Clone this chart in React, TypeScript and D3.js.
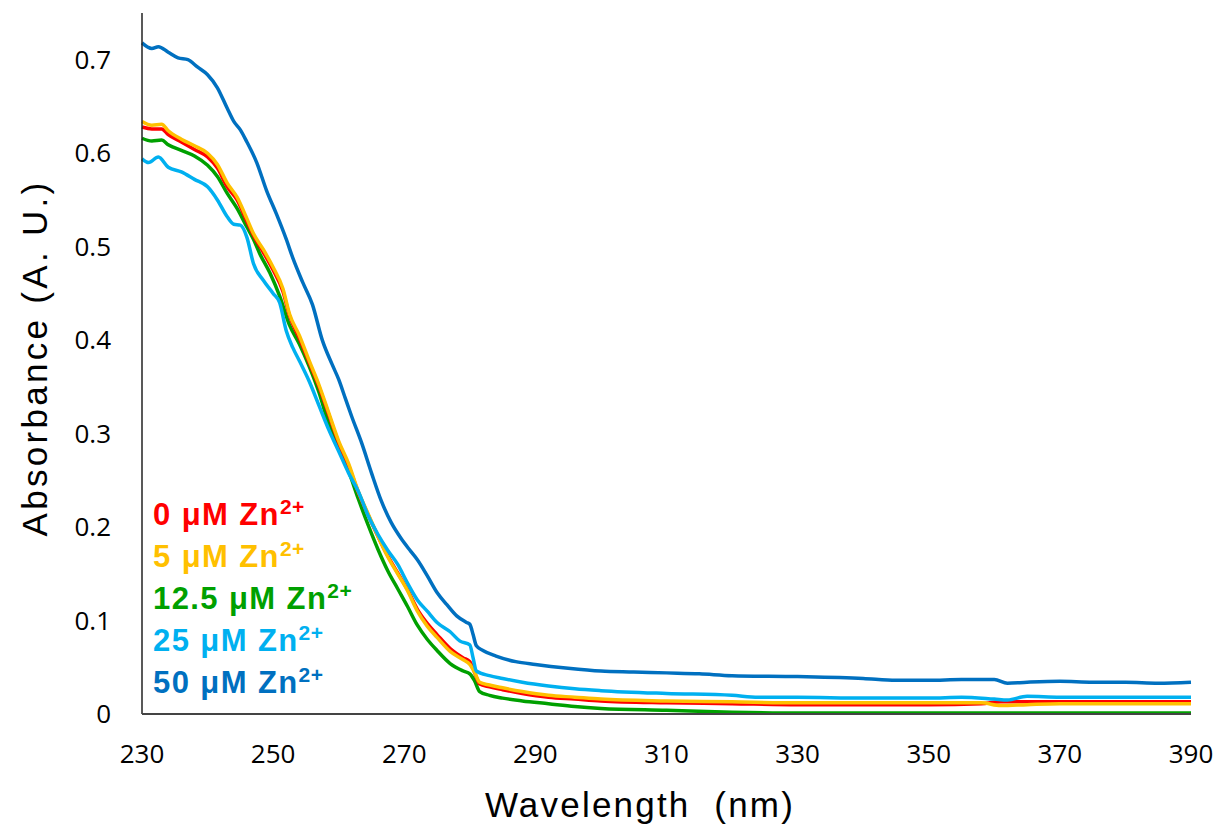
import React from "react";
import * as d3 from "d3";

const xTicks = [230, 250, 270, 290, 310, 330, 350, 370, 390];
const yTicks = [0, 0.1, 0.2, 0.3, 0.4, 0.5, 0.6, 0.7];

const blueW = [230,231.5,232.5,234,235.5,237,238.5,240,241.5,243,244,245,246,247.5,249,250.5,252,253,254.5,256,257.5,259,260,261,262,263.5,265,266.5,268,269.5,271,272,273.5,275,276.5,278,279.5,280,280.5,281,282,284,287,290,295,300,305,310,315,320,330,340,345,350,355,360,362,365,370,375,380,385,390];
const blueA = [0.718,0.712,0.714,0.708,0.702,0.700,0.692,0.684,0.670,0.648,0.634,0.625,0.612,0.590,0.560,0.535,0.508,0.488,0.462,0.438,0.400,0.374,0.358,0.338,0.318,0.290,0.258,0.228,0.205,0.188,0.174,0.165,0.148,0.130,0.117,0.105,0.098,0.096,0.085,0.073,0.068,0.062,0.056,0.053,0.049,0.046,0.045,0.044,0.043,0.041,0.040,0.038,0.036,0.036,0.037,0.037,0.033,0.034,0.035,0.034,0.034,0.033,0.034];

const oW = [230,231.5,233,234,236,238,240,241.5,243,244.5,246,247,248.5,250,251.5,252.5,254,255.5,257,258.5,260,261.5,263,264.5,266,267.5,269,270.5,272,273.5,275,277,279,280,280.7,281.5,283,285,288,292,296,300,310,320,330,340,350,358,361,365,370,380,390];
const orangeA = [0.634,0.630,0.631,0.624,0.615,0.608,0.600,0.588,0.568,0.553,0.530,0.514,0.497,0.478,0.455,0.428,0.405,0.378,0.352,0.322,0.292,0.268,0.238,0.214,0.190,0.168,0.150,0.132,0.110,0.094,0.082,0.067,0.058,0.053,0.045,0.034,0.031,0.028,0.024,0.020,0.018,0.016,0.014,0.013,0.012,0.012,0.012,0.012,0.009,0.010,0.011,0.011,0.011];
const redA = [0.628,0.626,0.626,0.620,0.612,0.604,0.596,0.584,0.564,0.550,0.527,0.512,0.494,0.475,0.452,0.426,0.402,0.376,0.350,0.320,0.290,0.266,0.237,0.213,0.190,0.169,0.151,0.133,0.112,0.097,0.085,0.070,0.060,0.056,0.045,0.032,0.029,0.026,0.022,0.018,0.016,0.014,0.012,0.011,0.010,0.010,0.010,0.011,0.013,0.013,0.013,0.013,0.013];

const gW = [230,231.5,233,234,236,238,240,241.5,243,244.5,246,247,248,249.5,251,252.5,254,255.5,257,258.5,260,261.5,263,264.5,266,267.5,269,270.5,272,273.5,275,277,279,280,280.7,281.5,283,285,288,292,296,300,310,320,330,350,370,390];
const greenA = [0.616,0.613,0.614,0.609,0.603,0.597,0.587,0.575,0.557,0.541,0.521,0.508,0.492,0.472,0.447,0.416,0.396,0.372,0.344,0.310,0.285,0.260,0.230,0.202,0.176,0.153,0.134,0.115,0.095,0.080,0.068,0.054,0.046,0.043,0.036,0.024,0.020,0.017,0.014,0.011,0.008,0.006,0.004,0.002,0.001,0.001,0.001,0.001];

const cW = [230,231,232.5,234,236,238,240,241.5,243,244,245,246,247,248.5,250,251,252,253,254,255.5,257,258.5,260,261.5,263,264.5,266,267.5,269,270.5,272,273.5,275,277,278.5,280,280.5,281,283,285,288,292,296,300,310,320,324,330,340,350,355,360,362,365,370,380,390];
const cyanA = [0.594,0.590,0.596,0.585,0.580,0.572,0.564,0.550,0.532,0.524,0.523,0.510,0.482,0.464,0.450,0.440,0.410,0.392,0.378,0.356,0.330,0.304,0.281,0.258,0.238,0.212,0.192,0.175,0.160,0.140,0.122,0.110,0.098,0.088,0.078,0.074,0.060,0.046,0.041,0.038,0.034,0.030,0.027,0.025,0.022,0.020,0.018,0.018,0.017,0.017,0.018,0.016,0.015,0.019,0.018,0.018,0.018];

const seriesNames = ["0 \u03bcM Zn", "5 \u03bcM Zn", "12.5 \u03bcM Zn", "25 \u03bcM Zn", "50 \u03bcM Zn"];
const seriesColors = ["#FF0000", "#FFC000", "#00A000", "#00B0F0", "#0070C0"];

export default function App() {
  const W = 1218, H = 831;
  const x = d3.scaleLinear().domain([230, 390]).range([142, 1191]);
  const y = d3.scaleLinear().domain([0, 0.75]).range([714, 13]);
  const line = d3.line<[number, number]>().x(d => x(d[0])).y(d => y(d[1])).curve(d3.curveMonotoneX);
  const zip = (ws: number[], as: number[]) => ws.map((w, i) => [w, as[i]] as [number, number]);
  const series = [
    { data: zip(oW, redA), color: seriesColors[0] },
    { data: zip(oW, orangeA), color: seriesColors[1] },
    { data: zip(gW, greenA), color: seriesColors[2] },
    { data: zip(cW, cyanA), color: seriesColors[3] },
    { data: zip(blueW, blueA), color: seriesColors[4] },
  ];
  const drawOrder = [2, 0, 1, 3, 4];
  return (
    <svg width={W} height={H} style={{ position: "absolute", left: 0, top: 0, background: "#fff" }}>
      <rect x={0} y={0} width={W} height={H} fill="#fff" />
      {drawOrder.map(i => (
        <path key={i} d={line(series[i].data) || ""} fill="none" stroke={series[i].color} strokeWidth={3.5} strokeLinejoin="round" />
      ))}
      <line x1={x(230)} x2={x(230)} y1={y(0)} y2={y(0.75)} stroke="#222" strokeWidth={1.5} />
      <line x1={x(230)} x2={x(390)} y1={y(0)} y2={y(0)} stroke="#444" strokeWidth={1.8} />
      {yTicks.map(t => (
        <text key={t} x={111} y={y(t)} dy="0.35em" textAnchor="end" fontFamily="'Open Sans'" fontSize={26} fill="#000">{t === 0 ? "0" : d3.format(".1f")(t)}</text>
      ))}
      {xTicks.map(t => (
        <text key={t} x={x(t)} y={763} textAnchor="middle" fontFamily="'Open Sans'" fontSize={26} fill="#000">{t}</text>
      ))}
      <text x={640} y={817} textAnchor="middle" fontFamily="'Liberation Sans', Arial" fontSize={35} letterSpacing={2.2} fill="#000">{"Wavelength\u00a0 (nm)"}</text>
      <text transform="translate(47,358) rotate(-90)" textAnchor="middle" fontFamily="'Liberation Sans', Arial" fontSize={35} letterSpacing={3.3} fill="#000">Absorbance (A. U.)</text>
      {seriesNames.map((n, i) => (
        <text key={n} x={153} y={525 + i * 42} fontFamily="'Liberation Sans', Arial" fontWeight="bold" fontSize={31} letterSpacing={1.4} fill={seriesColors[i]}>
          {n}<tspan fontSize={21} dy={-11} letterSpacing={0.5}>2+</tspan>
        </text>
      ))}
    </svg>
  );
}
